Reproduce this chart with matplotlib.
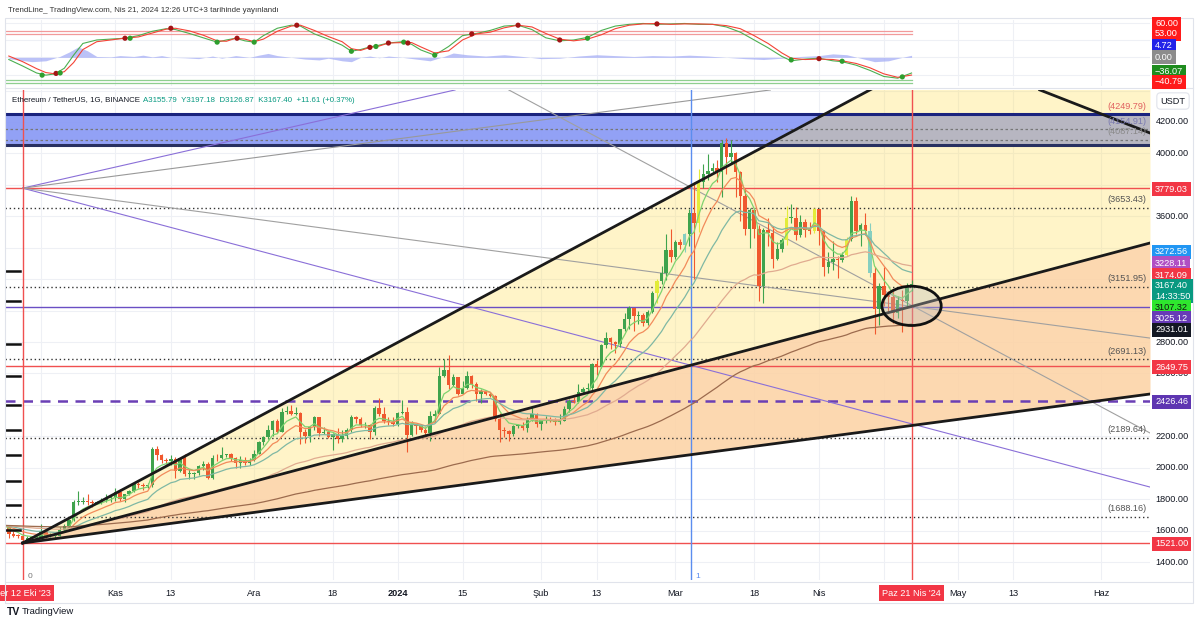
import matplotlib.pyplot as plt
import matplotlib.transforms as mtransforms
from matplotlib.patches import Ellipse, Rectangle
from matplotlib.lines import Line2D
import numpy as np
import pandas as pd

plt.rcParams['font.family'] = ['Liberation Sans', 'DejaVu Sans']

# ETH/USDT günlük mumlar, 8 Eki 2023 - 21 Nis 2024 (gün 0 = 12 Eki 2023)
first_day = -4
first_open = 1640.0
closes = [1633, 1580, 1567, 1566, 1539, 1553, 1555, 1557, 1600, 1565, 1565, 1566, 1605, 1630, 1665, 1785, 1785, 1787, 1780, 1775, 1780, 1795, 1810, 1815,
          1845, 1800, 1830, 1855, 1895, 1890, 1885, 1890, 2120, 2080, 2050, 2045, 2055, 1980, 2060, 1960, 1960, 1965, 2010, 2025, 1935, 2065, 2060, 2080, 2085, 2065, 2030, 2050, 2030, 2050,
          2090, 2165, 2195, 2240, 2295, 2230, 2355, 2360, 2340, 2350, 2225, 2200, 2260, 2320, 2220, 2225, 2195, 2215, 2180, 2200, 2240, 2325, 2310, 2270, 2275, 2230, 2380, 2345, 2300, 2290, 2280,
          2350, 2355, 2210, 2270, 2265, 2240, 2220, 2330, 2345, 2585, 2620, 2525, 2575, 2470, 2510, 2585, 2530, 2470, 2490, 2470, 2455, 2310, 2240, 2235, 2215, 2265, 2265, 2255, 2310, 2345, 2280,
          2305, 2310, 2295, 2290, 2300, 2375, 2425, 2420, 2485, 2500, 2505, 2660, 2640, 2780, 2825, 2800, 2785, 2880, 2945, 3015, 2965, 2970, 2920, 2990, 3110, 3185, 3240, 3385, 3340,
          3435, 3420, 3490, 3620, 3555, 3820, 3870, 3885, 3910, 3880, 4065, 3980, 4005, 3880, 3730, 3520, 3640, 3520, 3155, 3515, 3495, 3330, 3390, 3450, 3590, 3590, 3480, 3565, 3510, 3505, 3645,
          3505, 3275, 3310, 3330, 3320, 3355, 3455, 3695, 3505, 3545, 3505, 3240, 3010, 3155, 3100, 3085, 2985, 3065, 3060, 3155.79, 3167.40]
highs = [1645, 1636, 1598, 1577, 1570, 1567, 1562, 1565, 1640, 1603, 1582, 1575, 1620, 1640, 1675, 1795, 1855, 1815, 1830, 1795, 1790, 1810, 1830, 1820,
         1870, 1865, 1835, 1860, 1905, 1910, 1905, 1905, 2135, 2140, 2090, 2065, 2080, 2070, 2065, 2090, 1990, 1970, 2015, 2045, 2035, 2080, 2090, 2130, 2090, 2095, 2070, 2075, 2070, 2060,
         2110, 2170, 2200, 2275, 2305, 2310, 2380, 2390, 2400, 2385, 2355, 2245, 2265, 2330, 2325, 2260, 2240, 2220, 2255, 2240, 2255, 2335, 2330, 2325, 2290, 2280, 2390, 2445, 2385, 2320, 2320,
         2355, 2430, 2385, 2295, 2280, 2270, 2260, 2360, 2370, 2640, 2690, 2715, 2595, 2575, 2555, 2615, 2590, 2545, 2500, 2480, 2485, 2460, 2350, 2260, 2240, 2275, 2280, 2290, 2325, 2390, 2350,
         2310, 2330, 2325, 2315, 2340, 2390, 2440, 2450, 2530, 2515, 2540, 2665, 2685, 2785, 2865, 2835, 2805, 2885, 2985, 3030, 3015, 2995, 2985, 3005, 3125, 3200, 3285, 3490, 3520,
         3450, 3455, 3495, 3645, 3820, 3900, 3935, 3995, 3940, 3960, 4085, 4095, 4085, 4010, 3890, 3780, 3650, 3650, 3545, 3525, 3590, 3540, 3435, 3460, 3665, 3680, 3660, 3610, 3580, 3565, 3650,
         3645, 3510, 3370, 3445, 3345, 3375, 3465, 3730, 3720, 3560, 3620, 3555, 3280, 3175, 3280, 3125, 3125, 3095, 3130, 3175, 3197.18]
lows = [1620, 1553, 1560, 1550, 1521, 1535, 1548, 1548, 1555, 1555, 1557, 1550, 1565, 1598, 1620, 1660, 1765, 1770, 1760, 1750, 1770, 1770, 1785, 1780,
        1790, 1790, 1780, 1825, 1845, 1870, 1860, 1870, 1880, 2050, 2030, 2025, 2015, 1935, 1970, 1945, 1930, 1930, 1955, 1985, 1930, 1930, 2045, 2055, 2070, 2045, 2000, 2000, 2020, 2020,
        2040, 2085, 2145, 2185, 2200, 2220, 2225, 2340, 2335, 2335, 2150, 2160, 2165, 2240, 2205, 2215, 2190, 2115, 2155, 2165, 2190, 2230, 2285, 2260, 2255, 2180, 2210, 2330, 2285, 2270, 2265,
        2265, 2345, 2100, 2200, 2215, 2225, 2210, 2170, 2290, 2340, 2575, 2500, 2520, 2465, 2470, 2500, 2510, 2425, 2415, 2460, 2450, 2300, 2165, 2195, 2170, 2200, 2255, 2240, 2230, 2300, 2260,
        2240, 2285, 2290, 2270, 2280, 2295, 2355, 2410, 2410, 2470, 2490, 2480, 2590, 2635, 2760, 2755, 2730, 2770, 2870, 2880, 2870, 2915, 2905, 2910, 2985, 3050, 3170, 3195, 3310,
        3330, 3390, 3370, 3410, 3200, 3500, 3780, 3830, 3880, 3820, 3725, 3870, 3940, 3720, 3570, 3480, 3400, 3460, 3060, 3050, 3410, 3270, 3320, 3370, 3420, 3560, 3450, 3465, 3470, 3485, 3495,
        3420, 3220, 3240, 3255, 3210, 3310, 3350, 3440, 3490, 3410, 3480, 3215, 2850, 2910, 3030, 2990, 2920, 2955, 2865, 3030, 3126.87]
yellow_days = [137, 146, 165, 171, 178]
pale_days = [143, 183]

# osilatör (üst panel)
osc_days = [-3, 0, 3, 5, 7, 9, 11, 13, 16, 19, 22, 25, 28, 31, 33, 36, 39, 42, 44, 46, 48, 50, 52, 55, 58, 60, 63, 66, 69, 71, 73, 75, 77, 79, 82, 84, 86, 89, 92,
            95, 98, 101, 104, 107, 110, 113, 116, 119, 122, 125, 128, 131, 134, 137, 140, 143, 146, 149, 152, 155, 158, 161, 164, 166, 169, 172, 175, 177, 180, 183, 186, 189, 192]
osc_fast = [-5, -20, -36, -41, -38, -25, 5, 32, 40, 42, 44, 50, 60, 66, 64, 55, 45, 35, 40, 44, 38, 35, 50, 67, 74, 72, 54, 42, 28, 14, 18, 24, 28, 33, 36, 30, 17, 5, 25,
            50, 55, 62, 72, 74, 64, 45, 38, 40, 46, 62, 72, 76, 78, 76, 77, 78, 76, 76, 70, 58, 40, 22, 2, -8, -4, -2, -8, -10, -18, -30, -44, -48, -36.07]
osc_slow = [3, -10, -26, -35, -38, -33, -12, 18, 36, 40, 44, 47, 56, 65, 67, 61, 51, 38, 37, 44, 42, 36, 42, 60, 72, 74, 62, 48, 36, 20, 16, 23, 26, 33, 34, 34, 24, 10, 15,
            40, 54, 58, 68, 74, 70, 55, 42, 38, 42, 52, 66, 74, 77, 78, 76, 77, 77, 76, 73, 66, 50, 32, 10, -2, -5, -4, -5, -8, -14, -24, -38, -46, -40.79]
area_days = [-3, -1, 2, 5, 8, 10, 12, 14, 16, 19, 21, 24, 26, 28, 30, 32, 35, 38, 41, 43, 46, 49, 51, 53, 55, 58, 61, 64, 66, 69, 71, 73, 75, 77, 79, 82, 85, 88, 91, 93,
             96, 100, 104, 108, 112, 116, 120, 124, 128, 132, 136, 140, 144, 148, 152, 156, 160, 164, 168, 172, 175, 178, 181, 184, 187, 190, 192]
area_vals = [-3, -6, -10, -8, 2, 12, 24, 15, 2, 1, 4, 2, 5, 1, 4, 0, -1, -3, 3, -2, 4, 0, 5, 9, 4, 0, -4, -6, -2, -8, -10, 0, 3, -1, 3, 0, -4, -8, 2, 10,
             6, 3, 6, 2, -3, -2, 3, 6, 4, 2, 4, 3, 5, 3, 0, -3, -5, -2, 2, 4, 8, 6, -2, -10, -8, 0, 4.72]
dot_days = [4.2, 7.2, 8.1, 22.1, 23.2, 32, 42, 46.3, 50, 59.2, 71, 75, 76.3, 79, 82.3, 83.2, 89, 97, 107, 116, 122, 137, 166, 172, 177, 190]
dot_vals = [-41, -37, -36, 44, 44, 67, 35, 44, 35, 74, 14, 23, 25, 33, 35, 33, 5, 54, 74, 40, 44, 77, -6, -3, -9, -45]
dot_cols = ['g', 'r', 'g', 'r', 'g', 'r', 'g', 'r', 'g', 'r', 'g', 'r', 'g', 'r', 'g', 'r', 'g', 'r', 'r', 'r', 'g', 'r', 'g', 'r', 'g', 'g']

# yatay seviyeler
dotted_levels = [3653.43, 3151.95, 2691.13, 2189.64, 1688.16]
red_levels = [3779.03, 2649.75, 1521.00]
purple_level = 3025.12
dashed_purple = 2426.46
box_top, box_bottom = 4249.79, 4054.0
box_inner = [4154.91, 4087.14]
left_marks = [3252, 3061, 2787, 2584, 2399, 2240, 2081, 1915, 1762, 1603]

# tarih ekseni
tick_days = [20, 32, 50, 67, 81, 95, 112, 124, 141, 158, 172, 186, 202, 214, 233]
tick_labels = ['Kas', '13', 'Ara', '18', '2024', '15', 'Şub', '13', 'Mar', '18', 'Nis', '15', 'May', '13', 'Haz']
price_ticks = [4200, 4000, 3600, 2800, 2600, 2200, 2000, 1800, 1600, 1400]

W, H = 1200, 626
def fx(px):
    return px / W
def fy(py):
    return 1 - py / H

fig = plt.figure(figsize=(12, 6.26), dpi=100)
fig.patch.set_facecolor('white')

ax = fig.add_axes([fx(5), fy(580), fx(1145), 490 / H])
osc = fig.add_axes([fx(5), fy(86), fx(1145), 66 / H])
xmin, xmax = -3.82, 243.5
for a in (ax, osc):
    a.set_xlim(xmin, xmax)
    a.set_xticks([])
    a.set_yticks([])
    for s in a.spines.values():
        s.set_visible(False)
ax.set_ylim(1285.5, 4403.6)
osc.set_ylim(-66, 86)

# ızgara
grid_c = '#eef0f5'
for p in range(1400, 4401, 200):
    ax.axhline(p, color=grid_c, lw=0.8, zorder=0)
for d in [4] + tick_days:
    ax.axvline(d, color=grid_c, lw=0.8, zorder=0)
    osc.axvline(d, color=grid_c, lw=0.8, zorder=0)
for v in (-40, 0, 40, 80):
    osc.axhline(v, color=grid_c, lw=0.8, zorder=0)

# mavi kutu
ax.add_patch(Rectangle((xmin, box_bottom), xmax - xmin, box_top - box_bottom, fc='#8c9cf5', ec='none', alpha=0.95, zorder=1))
ax.axhline(box_top, color='#1a237e', lw=2.2, zorder=2)
ax.axhline(box_bottom, color='#283060', lw=2.2, zorder=2)
for p in box_inner:
    ax.axhline(p, color='#777777', lw=0.9, ls=(0, (2, 2)), zorder=2)

# üçgen dolguları
tx = np.array([0, xmax])
upper = 1521 + (4404 - 1521) / 183.0 * tx
middle = 1521 + (3430 - 1521) / 243.5 * tx
lower = 1521 + (2469 - 1521) / 243.5 * tx
ax.fill_between(tx, middle, upper, color='#ffe062', alpha=0.35, lw=0, zorder=1.5)
ax.fill_between(tx, lower, middle, color='#fcd4a8', alpha=0.9, lw=0, zorder=1.5)

# yatay çizgiler
for p in dotted_levels:
    ax.axhline(p, color='#333333', lw=1.0, ls=(0, (1, 2)), zorder=2)
for p in red_levels:
    ax.axhline(p, color='#f05050', lw=1.0, zorder=2)
ax.axhline(purple_level, color='#6a4fc4', lw=1.0, zorder=2)
ax.axhline(dashed_purple, color='#6a3fb5', lw=1.8, ls=(0, (4, 3)), zorder=2)

# ince çapraz çizgiler
ax.plot([0, 93.4], [3779.03, 4404], color='#8a6fd8', lw=0.8, zorder=2)
ax.plot([0, 161.5], [3779.03, 4404], color='#999999', lw=0.8, zorder=2)
ax.plot([0, 243.5], [3779.03, 1877], color='#8a6fd8', lw=0.8, zorder=2)
ax.plot([0, 243.5], [3779.03, 2825], color='#a0a0a0', lw=0.8, zorder=2)
ax.plot([105, 243.5], [4404, 2221], color='#a0a0a0', lw=0.8, zorder=2)

# dikey çizgiler
ax.axvline(0, color='#f05050', lw=1.0, zorder=2)
ax.axvline(192, color='#f05050', lw=1.0, zorder=2)
ax.axvline(144.4, color='#5b8def', lw=1.0, zorder=2)

# mumlar
c = np.array(closes, dtype=float)
o = np.r_[first_open, c[:-1]]
hi = np.array(highs, dtype=float)
lo = np.array(lows, dtype=float)
days = np.arange(first_day, first_day + len(c))
cols = np.where(c >= o, '#3fa34d', '#f0582e').astype(object)
for d in yellow_days:
    cols[d - first_day] = '#e3ec3a'
for d in pale_days:
    cols[d - first_day] = '#86cfc0'
ax.vlines(days, lo, hi, colors=list(cols), lw=0.8, zorder=3)
ax.bar(days, np.maximum(np.abs(c - o), 4), bottom=np.minimum(o, c), width=0.74, color=list(cols), lw=0, zorder=3)

# hareketli ortalamalar
cs = pd.Series(c)
ma_specs = [(5, '#7ed36f'), (10, '#f28b5b'), (20, '#7fb8a4'), (50, '#e0ab90'), (140, '#9c6b4e')]
for span, col in ma_specs:
    ax.plot(days, cs.ewm(span=span, adjust=False).mean(), color=col, lw=0.9, zorder=4)

# trend çizgileri
ax.plot(tx, upper, color='#1a1a1a', lw=2.0, zorder=5)
ax.plot(tx, middle, color='#1a1a1a', lw=2.0, zorder=5)
ax.plot(tx, lower, color='#1a1a1a', lw=2.0, zorder=5)
ax.plot([219.7, 243.5], [4404, 4130], color='#1a1a1a', lw=2.0, zorder=5)

ax.add_patch(Ellipse((192, 3030), 12.8, 250, fc='#bbbbbb', alpha=0.35, ec='none', zorder=6))
ax.add_patch(Ellipse((192, 3030), 12.8, 250, fc='none', ec='#111111', lw=2.0, zorder=6))

# sol kenardaki kısa çizgiler
for p in left_marks:
    ax.plot([xmin, -0.6], [p, p], color='#111111', lw=1.8, zorder=5)

ax.text(1.0, 1300, '0', fontsize=6, color='#777777', zorder=6)
ax.text(145.3, 1300, '1', fontsize=6, color='#5b8def', zorder=6)

# osilatör
osc.fill_between(area_days, 0, area_vals, color='#9fa8f5', alpha=0.7, lw=0, zorder=1)
for v in (60, 53):
    osc.plot([first_day, 192], [v, v], color='#f29a9a', lw=0.9, zorder=2)
for v in (-53, -60):
    osc.plot([first_day, 192], [v, v], color='#8fcf8f', lw=0.9, zorder=2)
osc.plot(osc_days, osc_fast, color='#4caf50', lw=0.8, zorder=3)
osc.plot(osc_days, osc_slow, color='#f44336', lw=0.8, zorder=3)
dcol = ['#2e9e2e' if k == 'g' else '#a31515' for k in dot_cols]
osc.scatter(dot_days, dot_vals, s=14, c=dcol, zorder=4, lw=0)

# fiyat ekseni
blend = mtransforms.blended_transform_factory(fig.transFigure, ax.transData)
for p in price_ticks:
    ax.text(fx(1172), p, f'{p:.2f}', transform=blend, ha='center', va='center', fontsize=6.6, color='#131722', clip_on=False)

def tag(py, text, fc, tc='white'):
    fig.text(fx(1155), fy(py), text, ha='left', va='center', fontsize=6.6, color=tc,
             bbox=dict(boxstyle='square,pad=0.3', fc=fc, ec='none'), zorder=10)

tag(189, '3779.03', '#f23645')
tag(252, '3272.56', '#2196f3')
tag(263.5, '3228.11', '#b04fc4')
tag(275, '3174.09', '#f23645')
fig.text(fx(1155), fy(291), '3167.40\n14:33:50', ha='left', va='center', fontsize=6.6, color='white', linespacing=1.15,
         bbox=dict(boxstyle='square,pad=0.3', fc='#089981', ec='none'), zorder=10)
tag(307, '3107.32', '#2ee62e', '#111111')
tag(318.5, '3025.12', '#673ab7')
tag(330, '2931.01', '#131722')
tag(367, '2649.75', '#f23645')
tag(402, '2426.46', '#5e35b1')
tag(544, '1521.00', '#f23645')

fig.text(fx(1173), fy(101), 'USDT', ha='center', va='center', fontsize=6.6, color='#131722',
         bbox=dict(boxstyle='round,pad=0.4', fc='white', ec='#e0e3eb', lw=0.8))

for p, t, col in [(4249.79, '(4249.79)', '#e06060'), (4154.91, '(4154.91)', '#7a7ab0'), (4087.14, '(4087.14)', '#8a8a8a'),
                  (3653.43, '(3653.43)', '#555555'), (3151.95, '(3151.95)', '#555555'), (2691.13, '(2691.13)', '#555555'),
                  (2189.64, '(2189.64)', '#555555'), (1688.16, '(1688.16)', '#555555')]:
    ax.text(fx(1146), p + 22, t, transform=blend, ha='right', va='bottom', fontsize=6.6, color=col, zorder=7)

# osilatör etiketleri
for py, t, fc in [(24, '60.00', '#ff1a1a'), (34, '53.00', '#ff1a1a'), (46, '4.72', '#2323e8'), (57, '0.00', '#8c8c8c'),
                  (72, '−36.07', '#1e8c1e'), (82, '−40.79', '#ff1a1a')]:
    tag(py, t, fc)

# tarih etiketleri
xblend = mtransforms.blended_transform_factory(ax.transData, fig.transFigure)
for d, t in zip(tick_days, tick_labels):
    ax.text(d, fy(593), t, transform=xblend, ha='center', va='center', fontsize=6.6,
            color='#131722', fontweight='bold' if t == '2024' else 'normal', clip_on=False)
ax.text(0, fy(593), "Per 12 Eki '23", transform=xblend, ha='center', va='center', fontsize=6.6, color='white', clip_on=False,
        bbox=dict(boxstyle='square,pad=0.35', fc='#f23645', ec='none'), zorder=10)
ax.text(192, fy(593), "Paz 21 Nis '24", transform=xblend, ha='center', va='center', fontsize=6.6, color='white', clip_on=False,
        bbox=dict(boxstyle='square,pad=0.35', fc='#f23645', ec='none'), zorder=10)

# çerçeve çizgileri
frame_c = '#e0e3eb'
fig.add_artist(Rectangle((fx(5), fy(603)), fx(1188), 585 / H, transform=fig.transFigure, fill=False, ec=frame_c, lw=0.8))
fig.add_artist(Line2D([fx(5), fx(1193)], [fy(88), fy(88)], transform=fig.transFigure, color=frame_c, lw=0.8))
fig.add_artist(Line2D([fx(5), fx(1193)], [fy(582), fy(582)], transform=fig.transFigure, color=frame_c, lw=0.8))

# başlıklar
fig.text(fx(8), fy(10), 'TrendLine_ TradingView.com, Nis 21, 2024 12:26 UTC+3 tarihinde yayınlandı', fontsize=5.7,
         color='#333333', va='center')
fig.text(fx(12), fy(100), 'Ethereum / TetherUS, 1G, BINANCE', fontsize=5.7, color='#131722', va='center')
fig.text(fx(143), fy(100), 'A3155.79  Y3197.18  D3126.87  K3167.40  +11.61 (+0.37%)', fontsize=5.7, color='#089981', va='center')
fig.text(fx(7), fy(612), 'TV', fontsize=7.5, fontweight='bold', color='#131722', va='center')
fig.text(fx(22), fy(612), 'TradingView', fontsize=6.8, color='#131722', va='center')

fig.savefig('out.png', dpi=100, facecolor='white')
